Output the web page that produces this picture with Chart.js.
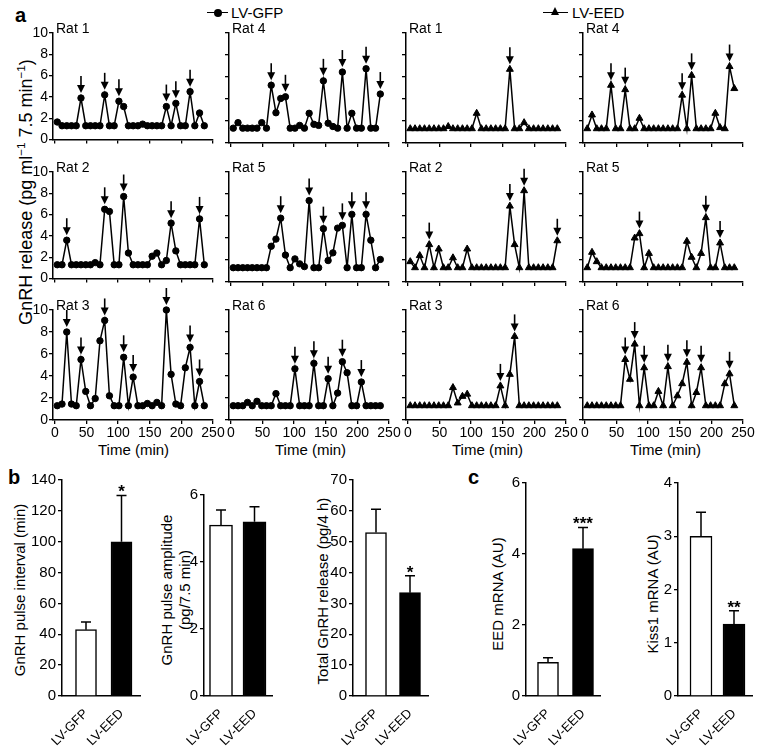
<!DOCTYPE html>
<html>
<head>
<meta charset="utf-8">
<script src="https://cdn.jsdelivr.net/npm/chart.js@4.4.0/dist/chart.umd.min.js"></script>
<style>
  body { margin: 0; background: #fff; }
  #fig { position: relative; width: 762px; height: 753px; overflow: hidden;
         font-family: Arial, "Liberation Sans", Helvetica, sans-serif; color: #000; }
  #fig canvas { position: absolute; }
  .lbl { position: absolute; white-space: nowrap; line-height: 1; }
  .rot { position: absolute; white-space: nowrap; text-align: center;
         transform: translate(-50%, -50%) rotate(-90deg); }
  .rot sup { font-size: 0.65em; }
</style>
</head>
<body>
<div id="fig">
  <div class="lbl" style="left:15px;top:5px;font-size:20px;font-weight:bold;">a</div>
  <div class="lbl" style="left:8px;top:467px;font-size:20px;font-weight:bold;">b</div>
  <div class="lbl" style="left:468px;top:467px;font-size:20px;font-weight:bold;">c</div>

  <!-- legend -->
  <div style="position:absolute;left:207px;top:12px;width:21px;border-top:1.5px solid #000;"></div>
  <div style="position:absolute;left:214px;top:9px;width:8px;height:8px;border-radius:50%;background:#000;"></div>
  <div class="lbl" style="left:231px;top:5px;font-size:15px;">LV-GFP</div>
  <div style="position:absolute;left:543px;top:12px;width:25px;border-top:1.5px solid #000;"></div>
  <div style="position:absolute;left:551px;top:7px;width:0;height:0;border-left:4.5px solid transparent;border-right:4.5px solid transparent;border-bottom:8px solid #000;"></div>
  <div class="lbl" style="left:572px;top:5px;font-size:15px;">LV-EED</div>

  <div class="rot" style="left:25px;top:192px;font-size:18px;">GnRH release (pg ml<sup>−1</sup> 7.5 min<sup>−1</sup>)</div>

  <div class="lbl" style="left:98px;top:442px;font-size:15px;">Time (min)</div>
  <div class="lbl" style="left:275px;top:442px;font-size:15px;">Time (min)</div>
  <div class="lbl" style="left:452px;top:442px;font-size:15px;">Time (min)</div>
  <div class="lbl" style="left:630px;top:442px;font-size:15px;">Time (min)</div>

  <div class="rot" style="left:19px;top:590px;font-size:15px;">GnRH pulse interval (min)</div>
  <div class="rot" style="left:176px;top:590px;font-size:15px;line-height:18px;">GnRH pulse amplitude<br>(pg/7.5 min)</div>
  <div class="rot" style="left:322px;top:591px;font-size:15px;">Total GnRH release (pg/4 h)</div>
  <div class="rot" style="left:497px;top:594px;font-size:15px;">EED mRNA (AU)</div>
  <div class="rot" style="left:652px;top:594px;font-size:15px;">Kiss1 mRNA (AU)</div>
</div>

<script>
// ---------------- DATA ----------------
// sample times (min), one every 7.5 min
const times = [3.75, 11.25, 18.75, 26.25, 33.75, 41.25, 48.75, 56.25, 63.75, 71.25, 78.75, 86.25,
  93.75, 101.25, 108.75, 116.25, 123.75, 131.25, 138.75, 146.25, 153.75, 161.25, 168.75, 176.25,
  183.75, 191.25, 198.75, 206.25, 213.75, 221.25, 228.75, 236.25];
const timeTicks = [0, 50, 100, 150, 200, 250];
const releaseTicks = [0, 2, 4, 6, 8, 10];

// LV-GFP
const gfpRat1 = [1.65,1.3,1.3,1.3,1.3,3.9,1.3,1.3,1.3,1.3,4.2,1.3,1.3,3.6,3.1,1.3,1.3,1.3,1.45,1.3,1.3,1.3,1.3,3.1,1.3,3.4,1.3,1.3,4.5,1.3,2.5,1.3];
const gfpRat1Pulses = [5, 10, 13, 23, 25, 28];
const gfpRat4 = [1.35,1.85,1.35,1.35,1.35,1.35,1.85,1.35,5.25,2.75,4.05,4.2,1.35,1.35,1.6,1.35,2.7,1.7,1.6,5.65,1.8,1.5,1.35,6.45,1.35,2.7,1.35,1.35,6.75,1.35,1.35,4.45];
const gfpRat4Pulses = [8, 11, 19, 23, 28, 31];
const gfpRat2 = [1.3,1.3,3.6,1.3,1.3,1.3,1.3,1.3,1.5,1.3,6.5,6.3,1.3,1.3,7.7,2.4,1.3,1.3,1.3,1.3,2.1,2.4,1.3,1.7,5.2,2.6,1.3,1.3,1.3,1.3,5.6,1.3];
const gfpRat2Pulses = [2, 10, 14, 24, 30];
const gfpRat5 = [1.3,1.3,1.3,1.3,1.3,1.3,1.3,1.3,3.25,3.9,5.8,2.45,1.3,2.1,1.65,1.4,7.4,1.3,1.3,4.85,1.95,2.65,4.9,5.15,1.3,6.15,1.3,1.3,6.15,3.8,1.3,2.05];
const gfpRat5Pulses = [10, 16, 19, 23, 25, 28];
const gfpRat3 = [1.3,1.45,8.0,1.45,1.3,5.5,2.6,1.3,1.95,7.2,9.05,2.2,1.3,1.3,5.7,1.3,3.9,1.3,1.3,1.5,1.3,1.6,1.3,10.0,4.15,1.45,1.3,4.75,6.6,1.3,3.5,1.3];
const gfpRat3Pulses = [2, 5, 10, 14, 16, 23, 28, 30];
const gfpRat6 = [1.3,1.3,1.3,1.6,1.3,1.7,1.3,1.3,1.3,2.4,1.3,1.3,1.3,4.65,1.3,1.3,1.3,5.15,1.3,1.3,3.75,1.3,2.45,5.3,4.3,1.3,1.3,3.45,1.3,1.3,1.3,1.3];
const gfpRat6Pulses = [13, 17, 20, 23, 27];

// LV-EED
const eedRat1 = [1.3,1.3,1.3,1.3,1.3,1.3,1.3,1.3,1.5,1.3,1.3,1.3,1.3,1.3,2.7,1.3,1.3,1.3,1.3,1.3,1.3,6.7,1.3,1.3,1.85,1.3,1.3,1.3,1.3,1.3,1.3,1.3];
const eedRat1Pulses = [21];
const eedRat4 = [1.3,2.55,1.3,1.3,1.3,5.25,1.3,1.3,4.85,1.3,1.3,2.25,1.3,1.3,1.3,1.3,1.3,1.3,1.3,1.3,4.35,1.3,6.15,1.3,1.3,1.3,1.3,2.7,1.4,1.3,6.95,4.95];
const eedRat4Pulses = [5, 8, 20, 22, 30];
const eedRat2 = [1.85,1.3,2.4,1.3,3.4,1.3,3.0,1.3,1.3,2.2,1.3,1.3,3.0,1.3,1.3,1.3,1.3,1.3,1.3,1.3,1.3,6.9,3.4,1.3,8.3,1.3,1.3,1.3,1.3,1.3,1.3,3.75];
const eedRat2Pulses = [4, 21, 24, 31];
const eedRat5 = [1.3,2.7,1.85,1.3,1.3,1.3,1.3,1.3,1.3,1.3,4.0,4.4,1.3,2.6,1.3,1.3,1.3,1.3,1.3,1.3,1.3,3.7,2.25,1.3,2.6,5.85,1.3,1.3,3.55,1.3,1.3,1.3];
const eedRat5Pulses = [11, 25, 28];
const eedRat3 = [1.3,1.3,1.3,1.3,1.3,1.3,1.3,1.3,1.3,2.95,1.55,2.15,2.35,1.3,1.3,1.3,1.3,1.3,1.3,3.1,1.3,4.15,7.6,1.3,1.3,1.3,1.3,1.3,1.3,1.3,1.3,1.3];
const eedRat3Pulses = [19, 22];
const eedRat6 = [1.3,1.3,1.3,1.3,1.3,1.3,1.3,1.3,5.5,3.7,6.9,1.3,4.75,1.3,1.3,2.6,1.3,4.85,1.3,2.2,3.3,5.25,1.3,2.5,4.75,1.3,1.3,1.3,1.3,3.3,4.2,1.3];
const eedRat6Pulses = [8, 10, 12, 17, 21, 24, 30];

// panel b / c
const groups = ['LV-GFP', 'LV-EED'];
const pulseInterval = [43, 100];
const pulseIntervalErr = [5, 30];
const pulseIntervalStars = ['', '*'];
const intervalTicks = [0, 20, 40, 60, 80, 100, 120, 140];
const pulseAmplitude = [5.1, 5.2];
const pulseAmplitudeErr = [0.45, 0.45];
const amplitudeTicks = [0, 2, 4, 6];
const totalRelease = [53, 33.5];
const totalReleaseErr = [7.5, 5.5];
const totalReleaseStars = ['', '*'];
const totalTicks = [0, 10, 20, 30, 40, 50, 60, 70];
const eedMrna = [0.95, 4.15];
const eedMrnaErr = [0.13, 0.6];
const eedMrnaStars = ['', '***'];
const eedTicks = [0, 2, 4, 6];
const kiss1Mrna = [3.0, 1.35];
const kiss1MrnaErr = [0.45, 0.25];
const kiss1MrnaStars = ['', '**'];
const kissTicks = [0, 1, 2, 3, 4];

// ---------------- SETUP ----------------
Chart.defaults.font.family = 'Arial, "Liberation Sans", Helvetica, sans-serif';
Chart.defaults.color = '#000';
const fig = document.getElementById('fig');

function makeCanvas(left, top, w, h) {
  const c = document.createElement('canvas');
  c.width = w; c.height = h;
  c.style.left = left + 'px'; c.style.top = top + 'px';
  c.style.width = w + 'px'; c.style.height = h + 'px';
  fig.appendChild(c);
  return c;
}

// arrows above the detected pulses
const pulseArrows = {
  id: 'pulseArrows',
  afterDatasetsDraw(chart, args, opts) {
    const meta = chart.getDatasetMeta(0);
    const ctx = chart.ctx;
    ctx.save();
    ctx.strokeStyle = '#000'; ctx.fillStyle = '#000'; ctx.lineWidth = 1.6;
    opts.indices.forEach(i => {
      const p = meta.data[i];
      const x = p.x, tip = p.y - 5;
      ctx.beginPath(); ctx.moveTo(x, tip - 17); ctx.lineTo(x, tip - 4); ctx.stroke();
      ctx.beginPath(); ctx.moveTo(x - 4, tip - 8); ctx.lineTo(x, tip); ctx.lineTo(x + 4, tip - 8);
      ctx.closePath(); ctx.fill();
    });
    ctx.restore();
  }
};

// "Rat n" label at top-left of each panel
const ratLabel = {
  id: 'ratLabel',
  afterDraw(chart, args, opts) {
    const ctx = chart.ctx;
    ctx.save();
    ctx.font = '14px Arial, "Liberation Sans", sans-serif';
    ctx.fillStyle = '#000';
    ctx.textBaseline = 'middle';
    ctx.fillText(opts.text, chart.chartArea.left + 3, chart.chartArea.top - 4);
    ctx.restore();
  }
};

// ---------------- PANEL a ----------------
const colAxisX = [53, 229, 406, 583];
const rowTopY = [33, 172, 310];
const PLOT_W = 160, PLOT_H = 110, Y_AX = 30, PAD_TOP = 22, PAD_R = 14;

const panels = [
  { col: 0, row: 0, label: 'Rat 1', values: gfpRat1, pulses: gfpRat1Pulses, marker: 'circle' },
  { col: 1, row: 0, label: 'Rat 4', values: gfpRat4, pulses: gfpRat4Pulses, marker: 'circle' },
  { col: 2, row: 0, label: 'Rat 1', values: eedRat1, pulses: eedRat1Pulses, marker: 'triangle' },
  { col: 3, row: 0, label: 'Rat 4', values: eedRat4, pulses: eedRat4Pulses, marker: 'triangle' },
  { col: 0, row: 1, label: 'Rat 2', values: gfpRat2, pulses: gfpRat2Pulses, marker: 'circle' },
  { col: 1, row: 1, label: 'Rat 5', values: gfpRat5, pulses: gfpRat5Pulses, marker: 'circle' },
  { col: 2, row: 1, label: 'Rat 2', values: eedRat2, pulses: eedRat2Pulses, marker: 'triangle' },
  { col: 3, row: 1, label: 'Rat 5', values: eedRat5, pulses: eedRat5Pulses, marker: 'triangle' },
  { col: 0, row: 2, label: 'Rat 3', values: gfpRat3, pulses: gfpRat3Pulses, marker: 'circle' },
  { col: 1, row: 2, label: 'Rat 6', values: gfpRat6, pulses: gfpRat6Pulses, marker: 'circle' },
  { col: 2, row: 2, label: 'Rat 3', values: eedRat3, pulses: eedRat3Pulses, marker: 'triangle' },
  { col: 3, row: 2, label: 'Rat 6', values: eedRat6, pulses: eedRat6Pulses, marker: 'triangle' }
];

panels.forEach(p => {
  const lastRow = p.row === 2;
  const xH = lastRow ? 20 : 6;
  const cv = makeCanvas(colAxisX[p.col] - Y_AX, rowTopY[p.row] - PAD_TOP,
                        Y_AX + PLOT_W + PAD_R, PAD_TOP + PLOT_H + xH);
  new Chart(cv, {
    type: 'line',
    data: {
      datasets: [{
        data: times.map((t, i) => ({ x: t, y: p.values[i] })),
        borderColor: '#000', borderWidth: 1.5, tension: 0,
        pointStyle: p.marker, pointRadius: p.marker === 'circle' ? 3.2 : 4,
        pointBackgroundColor: '#000', pointBorderColor: '#000', pointBorderWidth: 1,
        clip: false
      }]
    },
    options: {
      responsive: false, animation: false, devicePixelRatio: 1,
      layout: { padding: { top: PAD_TOP, right: PAD_R, left: 0, bottom: 0 } },
      plugins: {
        legend: { display: false }, tooltip: { enabled: false },
        pulseArrows: { indices: p.pulses },
        ratLabel: { text: p.label }
      },
      scales: {
        x: {
          type: 'linear', min: -3, max: 250,
          afterBuildTicks: a => { a.ticks = timeTicks.map(v => ({ value: v })); },
          afterFit: a => { a.height = xH; },
          grid: { display: true, drawOnChartArea: false, drawTicks: true, tickLength: 4, color: '#000', lineWidth: 1.3 },
          border: { display: true, color: '#000', width: 1.5 },
          ticks: { display: lastRow, autoSkip: false, maxRotation: 0, padding: 1, font: { size: 14 } }
        },
        y: {
          min: 0, max: 10,
          afterBuildTicks: a => { a.ticks = releaseTicks.map(v => ({ value: v })); },
          afterFit: a => { a.width = Y_AX; },
          grid: { display: true, drawOnChartArea: false, drawTicks: true, tickLength: 4, color: '#000', lineWidth: 1.3 },
          border: { display: true, color: '#000', width: 1.5 },
          ticks: { display: p.col === 0, padding: 1, font: { size: 14 } }
        }
      }
    },
    plugins: [pulseArrows, ratLabel]
  });
});

// ---------------- PANELS b, c ----------------
const errorBars = {
  id: 'errorBars',
  afterDatasetsDraw(chart, args, opts) {
    const meta = chart.getDatasetMeta(0);
    const ys = chart.scales.y;
    const ctx = chart.ctx;
    ctx.save();
    ctx.strokeStyle = '#000'; ctx.fillStyle = '#000'; ctx.lineWidth = 1.5;
    meta.data.forEach((bar, i) => {
      const v = chart.data.datasets[0].data[i].y;
      const top = ys.getPixelForValue(v + opts.errors[i]);
      ctx.beginPath();
      ctx.moveTo(bar.x, bar.y); ctx.lineTo(bar.x, top);
      ctx.moveTo(bar.x - 5, top); ctx.lineTo(bar.x + 5, top);
      ctx.stroke();
      if (opts.stars && opts.stars[i]) {
        ctx.font = 'bold 17px Arial, "Liberation Sans", sans-serif';
        ctx.textAlign = 'center'; ctx.textBaseline = 'alphabetic';
        ctx.fillText(opts.stars[i], bar.x, top + 2);
      }
    });
    ctx.restore();
  }
};

const BOTTOM_Y = 696, BY_AX = 45, BX_H = 55, BPAD_TOP = 24, BPAD_R = 10;
const barPanels = [
  { values: pulseInterval, errors: pulseIntervalErr, stars: pulseIntervalStars, ticks: intervalTicks,
    axisX: 62, endX: 140, topY: 480, c1: 86, c2: 121.5, thick: 21 },
  { values: pulseAmplitude, errors: pulseAmplitudeErr, stars: null, ticks: amplitudeTicks,
    axisX: 204, endX: 272, topY: 495, c1: 221, c2: 254.5, thick: 23 },
  { values: totalRelease, errors: totalReleaseErr, stars: totalReleaseStars, ticks: totalTicks,
    axisX: 353, endX: 428, topY: 480, c1: 376, c2: 410, thick: 21 },
  { values: eedMrna, errors: eedMrnaErr, stars: eedMrnaStars, ticks: eedTicks,
    axisX: 526, endX: 600, topY: 483, c1: 548, c2: 583, thick: 21 },
  { values: kiss1Mrna, errors: kiss1MrnaErr, stars: kiss1MrnaStars, ticks: kissTicks,
    axisX: 678, endX: 752, topY: 483, c1: 701, c2: 734, thick: 22 }
];

barPanels.forEach(b => {
  const unit = b.c2 - b.c1;
  const cv = makeCanvas(b.axisX - BY_AX, b.topY - BPAD_TOP,
                        BY_AX + (b.endX - b.axisX) + BPAD_R, BPAD_TOP + (BOTTOM_Y - b.topY) + BX_H);
  new Chart(cv, {
    type: 'bar',
    data: {
      datasets: [{
        data: groups.map((g, i) => ({ x: i + 1, y: b.values[i] })),
        backgroundColor: ['#fff', '#000'], borderColor: '#000', borderWidth: 1.5,
        barThickness: b.thick
      }]
    },
    options: {
      responsive: false, animation: false, devicePixelRatio: 1,
      layout: { padding: { top: BPAD_TOP, right: BPAD_R, left: 0, bottom: 0 } },
      plugins: {
        legend: { display: false }, tooltip: { enabled: false },
        errorBars: { errors: b.errors, stars: b.stars }
      },
      scales: {
        x: {
          type: 'linear', offset: false,
          min: 1 - (b.c1 - b.axisX) / unit, max: 2 + (b.endX - b.c2) / unit,
          afterBuildTicks: a => { a.ticks = groups.map((g, i) => ({ value: i + 1 })); },
          afterFit: a => { a.height = BX_H; },
          grid: { display: false },
          border: { display: true, color: '#000', width: 1.5 },
          ticks: { autoSkip: false, minRotation: 45, maxRotation: 45, padding: 2,
                   font: { size: 13 }, callback: v => groups[v - 1] }
        },
        y: {
          min: b.ticks[0], max: b.ticks[b.ticks.length - 1],
          afterBuildTicks: a => { a.ticks = b.ticks.map(v => ({ value: v })); },
          afterFit: a => { a.width = BY_AX; },
          grid: { display: true, drawOnChartArea: false, drawTicks: true, tickLength: 4, color: '#000', lineWidth: 1.3 },
          border: { display: true, color: '#000', width: 1.5 },
          ticks: { padding: 2, font: { size: 15 } }
        }
      }
    },
    plugins: [errorBars]
  });
});
</script>
</body>
</html>
